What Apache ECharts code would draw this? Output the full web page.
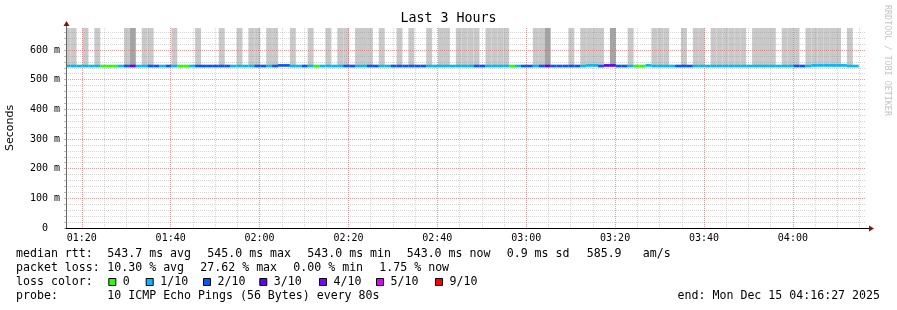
<!DOCTYPE html>
<html><head><meta charset="utf-8">
<script src="https://cdn.jsdelivr.net/npm/echarts@6/dist/echarts.min.js"></script>
<style>html,body{margin:0;padding:0;background:#fff}#c{width:897px;height:310px}</style>
</head><body><div id="c"></div>
<script>
// ---- time (minutes since midnight) ----
const timeStart = 76.45;      // 01:16:27
const timeEnd = 256.45;       // 04:16:27
const firstStep = 76.158;     // start of first 80 s probe step
const stepMinutes = 80 / 60;
const xTickMinutes = [80, 100, 120, 140, 160, 180, 200, 220, 240];
const xTickLabels = ['01:20', '01:40', '02:00', '02:20', '02:40', '03:00', '03:20', '03:40', '04:00'];
const yTickValues = [0, 100, 200, 300, 400, 500, 600];
const yTickLabels = ['0  ', '100 m', '200 m', '300 m', '400 m', '500 m', '600 m'];
const yMax = 674;
const smokeTop = 674;

// ---- per-step data (134 steps of 80 s) ----
const lossLevel = [
  1,1,1,1,1,1,0,0,0,1,
  2,3,1,1,2,2,1,2,1,0,
  0,1,2,2,2,2,2,2,1,1,
  1,1,2,2,1,2,2,2,1,1,
  2,1,0,1,1,1,1,2,2,1,
  1,2,2,1,1,2,2,2,2,2,
  2,1,1,1,1,1,1,1,1,2,
  2,1,1,1,1,0,1,2,2,1,
  2,3,2,2,2,2,2,1,1,1,
  2,3,3,2,2,1,0,0,1,1,
  1,1,1,2,2,2,1,1,1,1,
  1,1,1,1,1,1,1,1,1,1,
  1,1,1,2,2,1,1,1,1,1,
  1,1,1,1
];
const medianRtt = [
  543,543,543,543,543,543,543,543,543,543,
  543,543,543,543,543,543,543,543,543,543,
  543,543,543,543,543,543,543,543,543,543,
  543,543,543,543,543,543,545,545,543,543,
  543,543,543,543,543,543,543,543,543,543,
  543,543,543,543,543,543,543,543,543,543,
  543,543,543,543,543,543,543,543,543,543,
  543,543,543,543,543,543,543,543,543,543,
  543,543,543,543,543,543,543,543,545,545,
  543,545,545,543,543,543,543,543,545,543,
  543,543,543,543,543,543,543,543,543,543,
  543,543,543,543,543,543,543,543,543,543,
  543,543,543,543,543,543,545,545,545,545,
  545,545,543,543
];
const smoke = [
  1,1,0,1,0,1,0,0,0,0,
  1,2,0,1,1,0,0,0,1,0,
  0,0,1,0,0,0,1,0,0,1,
  0,1,1,0,1,1,0,0,1,0,
  0,1,0,0,1,0,1,1,0,1,
  1,1,0,1,0,0,1,0,1,0,
  0,1,0,1,1,0,1,1,1,1,
  0,1,1,1,1,0,0,0,0,1,
  1,2,0,0,0,1,0,1,1,1,
  1,0,2,0,0,1,0,0,0,1,
  1,1,0,0,1,0,1,1,0,1,
  1,1,1,1,1,0,1,1,1,1,
  0,1,1,1,0,1,1,1,1,1,
  1,0,1,0
];

const lossColors = ['#26ff00', '#00b8ff', '#0059ff', '#5e00ff', '#7e00ff', '#dd00ff', '#ff0000'];
const lossLabels = ['0', '1/10', '2/10', '3/10', '4/10', '5/10', '9/10'];
const smokeColors = [null, '#c9c9c9', '#a4a4a4'];

const legendLine1 = [
  ['median rtt:', 16], ['543.7 ms avg', 107.3], ['545.0 ms max', 207.3], ['543.0 ms min', 307.3],
  ['543.0 ms now', 406.7], ['0.9 ms sd', 506.7], ['585.9', 586.7], ['am/s', 642.7]
];
const legendLine2 = [
  ['packet loss:', 16], ['10.30 % avg', 107.3], ['27.62 % max', 200.3], ['0.00 % min', 293.3], ['1.75 % now', 379.3]
];
const lossBoxX = [108.3, 145.7, 203, 259.3, 319, 376, 435];
const probeText = '10 ICMP Echo Pings (56 Bytes) every 80s';
const endText = 'end: Mon Dec 15 04:16:27 2025';

const stepData = medianRtt.map((m, i) => [
  firstStep + i * stepMinutes, firstStep + (i + 1) * stepMinutes, m, lossLevel[i], smoke[i]
]);

const MONO = '"DejaVu Sans Mono", monospace';
const gridCol = 'rgba(150,150,150,0.4)';
const mgridCol = 'rgba(230,70,70,0.38)';

const chart = echarts.init(document.getElementById('c'), null, {renderer: 'canvas', width: 897, height: 310});

const PLOT = {left: 66, top: 28, width: 800, height: 200};
const pxPerMin = PLOT.width / (timeEnd - timeStart);
const minorStart = 75, majorStart = 60;
const gMinorLeft = PLOT.left - (timeStart - minorStart) * pxPerMin;
const gMajorLeft = PLOT.left - (timeStart - majorStart) * pxPerMin;
const right = PLOT.left + PLOT.width;

function clipRect(r, cs) {
  return echarts.graphic.clipRectByRect(r, {x: cs.x, y: cs.y, width: cs.width, height: cs.height});
}
function renderSmoke(params, api) {
  const lvl = api.value(4);
  if (!lvl) return null;
  const a = api.coord([api.value(0), smokeTop]);
  const b = api.coord([api.value(1), api.value(2)]);
  const shape = clipRect({x: a[0], y: a[1], width: b[0] - a[0], height: b[1] - a[1]}, params.coordSys);
  if (!shape) return null;
  return {type: 'rect', shape: shape, style: {fill: smokeColors[lvl]}};
}
function renderMedian(params, api) {
  const a = api.coord([api.value(0), api.value(2)]);
  const b = api.coord([api.value(1), api.value(2)]);
  const shape = clipRect({x: a[0], y: a[1] - 2.2, width: b[0] - a[0], height: 2.7}, params.coordSys);
  if (!shape) return null;
  return {type: 'rect', shape: shape, style: {fill: lossColors[api.value(3)]}};
}

const graphics = [];
graphics.push({type: 'text', left: 'center', top: 12, style: {text: 'Last 3 Hours', font: '13.3px ' + MONO, fill: '#000'}});
graphics.push({type: 'text', x: 887, y: 5, rotation: -Math.PI / 2,
  style: {text: 'RRDTOOL / TOBI OETIKER', font: '8.4px ' + MONO, fill: '#c4c4c4', align: 'left', verticalAlign: 'middle'}});
const legendFont = '11.6px ' + MONO;
legendLine1.forEach(([t, x]) => graphics.push({type: 'text', x: x, y: 254, style: {text: t, font: legendFont, fill: '#000', verticalAlign: 'middle'}}));
legendLine2.forEach(([t, x]) => graphics.push({type: 'text', x: x, y: 268, style: {text: t, font: legendFont, fill: '#000', verticalAlign: 'middle'}}));
graphics.push({type: 'text', x: 16, y: 282, style: {text: 'loss color:', font: legendFont, fill: '#000', verticalAlign: 'middle'}});
lossColors.forEach((c, i) => {
  graphics.push({type: 'rect', shape: {x: lossBoxX[i] + 0.5, y: 278.5, width: 7, height: 7}, style: {fill: c, stroke: '#000', lineWidth: 1}});
  graphics.push({type: 'text', x: lossBoxX[i] + 14.5, y: 282, style: {text: lossLabels[i], font: legendFont, fill: '#000', verticalAlign: 'middle'}});
});
graphics.push({type: 'text', x: 16, y: 296, style: {text: 'probe:', font: legendFont, fill: '#000', verticalAlign: 'middle'}});
graphics.push({type: 'text', x: 107.3, y: 296, style: {text: probeText, font: legendFont, fill: '#000', verticalAlign: 'middle'}});
graphics.push({type: 'text', x: 880, y: 296, style: {text: endText, font: legendFont, fill: '#000', align: 'right', verticalAlign: 'middle'}});

const hidden = {axisLine: {show: false}, axisTick: {show: false}, axisLabel: {show: false}};
const dot = [1, 1];

chart.setOption({
  animation: false,
  backgroundColor: '#fff',
  grid: [
    {left: PLOT.left, top: PLOT.top, width: PLOT.width, height: PLOT.height, outerBoundsMode: 'none', containLabel: false},
    {left: gMinorLeft, top: PLOT.top, width: right - gMinorLeft, height: PLOT.height, outerBoundsMode: 'none', containLabel: false},
    {left: gMajorLeft, top: PLOT.top, width: right - gMajorLeft, height: PLOT.height, outerBoundsMode: 'none', containLabel: false}
  ],
  xAxis: [
    {type: 'value', gridIndex: 0, position: 'bottom', min: timeStart, max: timeEnd, z: 6,
      axisLine: {show: true, lineStyle: {color: '#000', width: 1}},
      axisTick: {show: false}, axisLabel: {show: false}, splitLine: {show: false}},
    Object.assign({type: 'value', gridIndex: 1, position: 'bottom', min: minorStart, max: timeEnd, interval: 5, z: 2,
      splitLine: {show: true, showMinLine: false, showMaxLine: false, lineStyle: {color: gridCol, width: 1, type: dot}}}, hidden),
    {type: 'value', gridIndex: 2, position: 'bottom', min: majorStart, max: timeEnd, interval: 20, z: 2,
      axisLine: {show: false}, axisTick: {show: false},
      axisLabel: {show: true, margin: 5, fontFamily: MONO, fontSize: 10, color: '#000',
        formatter: v => { const i = xTickMinutes.indexOf(Math.round(v * 100) / 100); return i >= 0 ? xTickLabels[i] : ''; }},
      splitLine: {show: true, showMinLine: false, showMaxLine: false, lineStyle: {color: mgridCol, width: 1, type: dot}}}
  ],
  yAxis: [
    {type: 'value', gridIndex: 0, position: 'left', min: 0, max: yMax, interval: 20, z: 2,
      name: 'Seconds', nameLocation: 'middle', nameGap: 50, nameRotate: 90,
      nameTextStyle: {fontFamily: '"DejaVu Sans", sans-serif', fontSize: 11, color: '#000'},
      axisLine: {show: false},
      axisTick: {show: true, length: 2, lineStyle: {color: '#bbb'}},
      axisLabel: {margin: 6, fontFamily: MONO, fontSize: 10, color: '#000', showMaxLabel: false,
        formatter: v => { const i = yTickValues.indexOf(v); return i >= 0 ? yTickLabels[i] : ''; }},
      splitLine: {show: true, showMinLine: false, showMaxLine: false, lineStyle: {color: gridCol, width: 1, type: dot}}},
    Object.assign({type: 'value', gridIndex: 0, position: 'left', min: 0, max: yMax, interval: 100, z: 2,
      splitLine: {show: true, showMinLine: false, showMaxLine: false, lineStyle: {color: mgridCol, width: 1, type: dot}}}, hidden),
    Object.assign({type: 'value', gridIndex: 1, position: 'left', min: 0, max: yMax, splitLine: {show: false}}, hidden),
    Object.assign({type: 'value', gridIndex: 2, position: 'left', min: 0, max: yMax, splitLine: {show: false}}, hidden),
    {type: 'value', gridIndex: 0, position: 'left', offset: 0, min: 0, max: yMax, z: 6,
      axisLine: {show: true, lineStyle: {color: '#666', width: 1}},
      axisTick: {show: false}, axisLabel: {show: false}, splitLine: {show: false}}
  ],
  series: [
    {type: 'custom', xAxisIndex: 0, yAxisIndex: 0, silent: true, renderItem: renderSmoke, data: stepData, z: 1},
    {type: 'custom', xAxisIndex: 0, yAxisIndex: 0, silent: true, renderItem: renderMedian, data: stepData, z: 4}
  ],
  graphic: graphics
});

const pEnd = chart.convertToPixel({gridIndex: 0}, [timeEnd, 0]);
const pTop = chart.convertToPixel({gridIndex: 0}, [timeStart, yMax]);
const arrowCol = '#7f1515';
graphics.push({type: 'line', shape: {x1: pEnd[0], y1: pEnd[1] + 0.5, x2: pEnd[0] + 4, y2: pEnd[1] + 0.5}, style: {stroke: '#000', lineWidth: 1}, z: 10});
graphics.push({type: 'polygon', shape: {points: [[pEnd[0] + 3, pEnd[1] - 2.5], [pEnd[0] + 8, pEnd[1] + 0.5], [pEnd[0] + 3, pEnd[1] + 3.5]]}, style: {fill: arrowCol}, z: 10});
graphics.push({type: 'line', shape: {x1: pTop[0] + 0.5, y1: pTop[1], x2: pTop[0] + 0.5, y2: pTop[1] - 3}, style: {stroke: '#666', lineWidth: 1}, z: 10});
graphics.push({type: 'polygon', shape: {points: [[pTop[0] - 2.5, pTop[1] - 2], [pTop[0] + 0.5, pTop[1] - 7], [pTop[0] + 3.5, pTop[1] - 2]]}, style: {fill: arrowCol}, z: 10});
chart.setOption({graphic: graphics});
</script></body></html>
